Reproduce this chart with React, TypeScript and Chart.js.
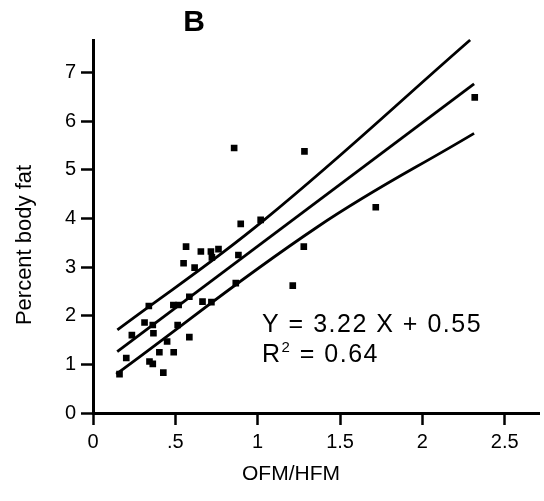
import React, { useEffect, useRef } from 'react';
import { Chart, registerables } from 'chart.js';

Chart.register(...registerables);

const xTicks = [0, 0.5, 1, 1.5, 2, 2.5];
const xTickLabels = ['0', '.5', '1', '1.5', '2', '2.5'];
const yTicks = [0, 1, 2, 3, 4, 5, 6, 7];
const yTickLabels = ['0', '1', '2', '3', '4', '5', '6', '7'];

const ofmHfm = [
  0.161, 0.202, 0.236, 0.313, 0.339, 0.343, 0.363, 0.363, 0.367, 0.403,
  0.427, 0.45, 0.488, 0.49, 0.514, 0.52, 0.55, 0.565, 0.585, 0.585,
  0.617, 0.655, 0.665, 0.716, 0.722, 0.719, 0.762, 0.867, 0.857, 0.883,
  0.897, 1.018, 1.213, 1.28, 1.284, 1.717, 2.318,
];
const bodyFat = [
  0.8, 1.13, 1.6, 1.86, 2.2, 1.06, 1.01, 1.81, 1.64, 1.25,
  0.83, 1.47, 2.22, 1.25, 1.81, 2.22, 3.08, 3.42, 2.39, 1.56,
  2.99, 3.32, 2.29, 3.32, 3.2, 2.28, 3.37, 2.67, 5.45, 3.25,
  3.89, 3.97, 2.62, 3.42, 5.38, 4.23, 6.49,
];

const fitX = [0.147, 2.314];
const fitY = [1.26, 6.77];
const upperX = [0.148, 1.04, 2.29];
const upperY = [1.71, 3.97, 7.67];
const lowerX = [0.141, 1.36, 2.314];
const lowerY = [0.8, 3.82, 5.75];

const panelLabel = 'B';
const xTitle = 'OFM/HFM';
const yTitle = 'Percent body fat';
const equationText = 'Y = 3.22 X + 0.55';
const r2Value = ' = 0.64';

const FONT = 'Arial, "Liberation Sans", Helvetica, sans-serif';

const toPts = (xs: number[], ys: number[]) => xs.map((x, i) => ({ x, y: ys[i] }));

const textPlugin = {
  id: 'textPlugin',
  afterDraw(chart: any) {
    const ctx = chart.ctx;
    const xs = chart.scales.x;
    const ys = chart.scales.y;
    ctx.save();
    ctx.fillStyle = '#000';
    // panel label
    ctx.font = `bold 30px ${FONT}`;
    ctx.textAlign = 'center';
    ctx.textBaseline = 'alphabetic';
    ctx.fillText(panelLabel, 194, 31);
    // x title
    ctx.font = `21px ${FONT}`;
    ctx.textAlign = 'center';
    ctx.textBaseline = 'middle';
    ctx.fillText(xTitle, 291, 474);
    // y title
    ctx.save();
    ctx.translate(25, 245);
    ctx.rotate(-Math.PI / 2);
    ctx.font = `22px ${FONT}`;
    ctx.fillText(yTitle, 0, 0);
    ctx.restore();
    // equation
    const ex = xs.getPixelForValue(1.026);
    const ey1 = ys.getPixelForValue(1.67);
    const ey2 = ys.getPixelForValue(1.05);
    ctx.textAlign = 'left';
    ctx.textBaseline = 'alphabetic';
    (ctx as any).letterSpacing = '1.5px';
    ctx.font = `25px ${FONT}`;
    ctx.fillText(equationText, ex, ey1);
    ctx.fillText('R', ex, ey2);
    const rw = ctx.measureText('R').width;
    ctx.font = `15px ${FONT}`;
    ctx.fillText('2', ex + rw, ey2 - 10);
    const tw = ctx.measureText('2').width;
    ctx.font = `25px ${FONT}`;
    ctx.fillText(r2Value, ex + rw + tw, ey2);
    (ctx as any).letterSpacing = '0px';
    ctx.restore();
  },
};

export default function App() {
  const ref = useRef<HTMLCanvasElement | null>(null);
  useEffect(() => {
    document.body.style.margin = '0';
    const canvas = ref.current!;
    const lineDs = (xs: number[], ys: number[], tension: number) => ({
      type: 'line' as const,
      data: toPts(xs, ys),
      showLine: true,
      borderColor: '#000',
      borderWidth: 2.8,
      pointRadius: 0,
      fill: false,
      tension,
      clip: false as any,
    });
    const chart = new Chart(canvas, {
      type: 'scatter',
      data: {
        datasets: [
          {
            data: toPts(ofmHfm, bodyFat),
            pointStyle: 'rect',
            pointRadius: 4.7,
            backgroundColor: '#000',
            borderWidth: 0,
          } as any,
          lineDs(fitX, fitY, 0) as any,
          lineDs(upperX, upperY, 0.4) as any,
          lineDs(lowerX, lowerY, 0.4) as any,
        ],
      },
      options: {
        responsive: false,
        animation: false,
        devicePixelRatio: 1,
        layout: { padding: { top: 40, right: 2, left: 0, bottom: 0 } },
        plugins: { legend: { display: false }, tooltip: { enabled: false } },
        scales: {
          x: {
            type: 'linear',
            min: 0,
            max: 2.71,
            afterBuildTicks: (s: any) => {
              s.ticks = xTicks.map((v) => ({ value: v }));
            },
            afterFit: (s: any) => {
              s.height = 88;
            },
            ticks: {
              color: '#000',
              font: { size: 20, family: FONT },
              padding: 5,
              maxRotation: 0,
              autoSkip: false,
              callback: (v: any) => xTickLabels[xTicks.indexOf(Number(v))],
            },
            grid: {
              drawOnChartArea: false,
              drawTicks: true,
              tickLength: 12,
              tickWidth: 2.5,
              tickColor: '#000',
            },
            border: { display: true, color: '#000', width: 3 },
          },
          y: {
            type: 'linear',
            min: 0,
            max: 7.67,
            afterBuildTicks: (s: any) => {
              s.ticks = yTicks.map((v) => ({ value: v }));
            },
            afterFit: (s: any) => {
              s.width = 93;
            },
            ticks: {
              color: '#000',
              font: { size: 20, family: FONT },
              padding: 5,
              autoSkip: false,
              callback: (v: any) => yTickLabels[yTicks.indexOf(Number(v))],
            },
            grid: {
              drawOnChartArea: false,
              drawTicks: true,
              tickLength: 12,
              tickWidth: 2.5,
              tickColor: '#000',
            },
            border: { display: true, color: '#000', width: 3 },
          },
        },
      },
      plugins: [textPlugin],
    });
    return () => chart.destroy();
  }, []);
  return (
    <div style={{ width: 544, height: 501, background: '#fff' }}>
      <canvas ref={ref} width={544} height={501} style={{ display: 'block', width: 544, height: 501 }} />
    </div>
  );
}
